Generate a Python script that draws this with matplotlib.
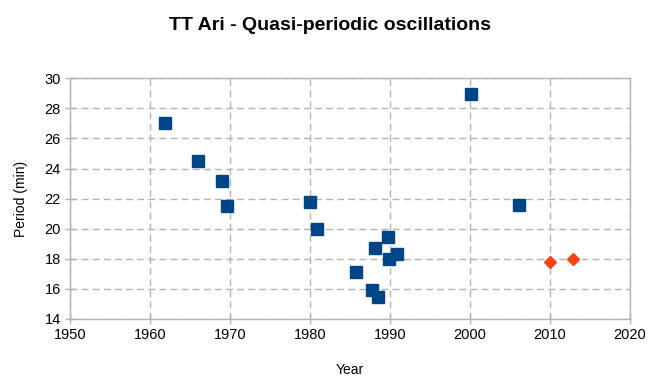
import matplotlib
matplotlib.use("Agg")
import matplotlib.pyplot as plt

plt.rcParams['font.family'] = ['Liberation Sans', 'DejaVu Sans']

# measured periods (blue squares)
years = [1961.9, 1966.0, 1969.0, 1969.6, 1980.0, 1980.9, 1985.75, 1987.75,
         1988.1, 1988.5, 1989.75, 1989.9, 1990.9, 2000.1, 2006.1]
periods = [27.0, 24.5, 23.15, 21.5, 21.75, 19.95, 17.1, 15.9,
           18.7, 15.45, 19.45, 17.97, 18.3, 28.95, 21.55]

# recent (orange diamonds)
new_years = [2010.0, 2012.9]
new_periods = [17.82, 18.0]

grey = '#b3b3b3'

fig = plt.figure(figsize=(6.6, 3.88), dpi=100)
ax = fig.add_axes([70/660, 1-319/388, 560/660, (319-78.3)/388])

ax.plot(years, periods, linestyle='none', marker='s', markersize=8,
        color='#004586', zorder=3, clip_on=False)
ax.plot(new_years, new_periods, linestyle='none', marker='D', markersize=6,
        color='#ff420e', zorder=3, clip_on=False)

ax.set_xlim(1950, 2020)
ax.set_ylim(14, 30)
ax.set_xticks(range(1950, 2021, 10))
ax.set_yticks(range(14, 31, 2))

ax.grid(True, color=grey, linestyle=(0, (5, 3)), linewidth=1)
ax.set_axisbelow(True)
for s in ax.spines.values():
  s.set_color(grey)
  s.set_linewidth(1)
ax.tick_params(direction='inout', length=7, width=1, color=grey,
               labelsize=10.5, labelcolor='black', pad=3)

ax.set_xlabel('Year', fontsize=10, labelpad=15)
ax.set_ylabel('Period (min)', fontsize=10, labelpad=12)
fig.text(0.5, 1-26/388, 'TT Ari - Quasi-periodic oscillations', ha='center',
         va='center', fontsize=14, fontweight='bold')

fig.savefig('out.png', dpi=100)
